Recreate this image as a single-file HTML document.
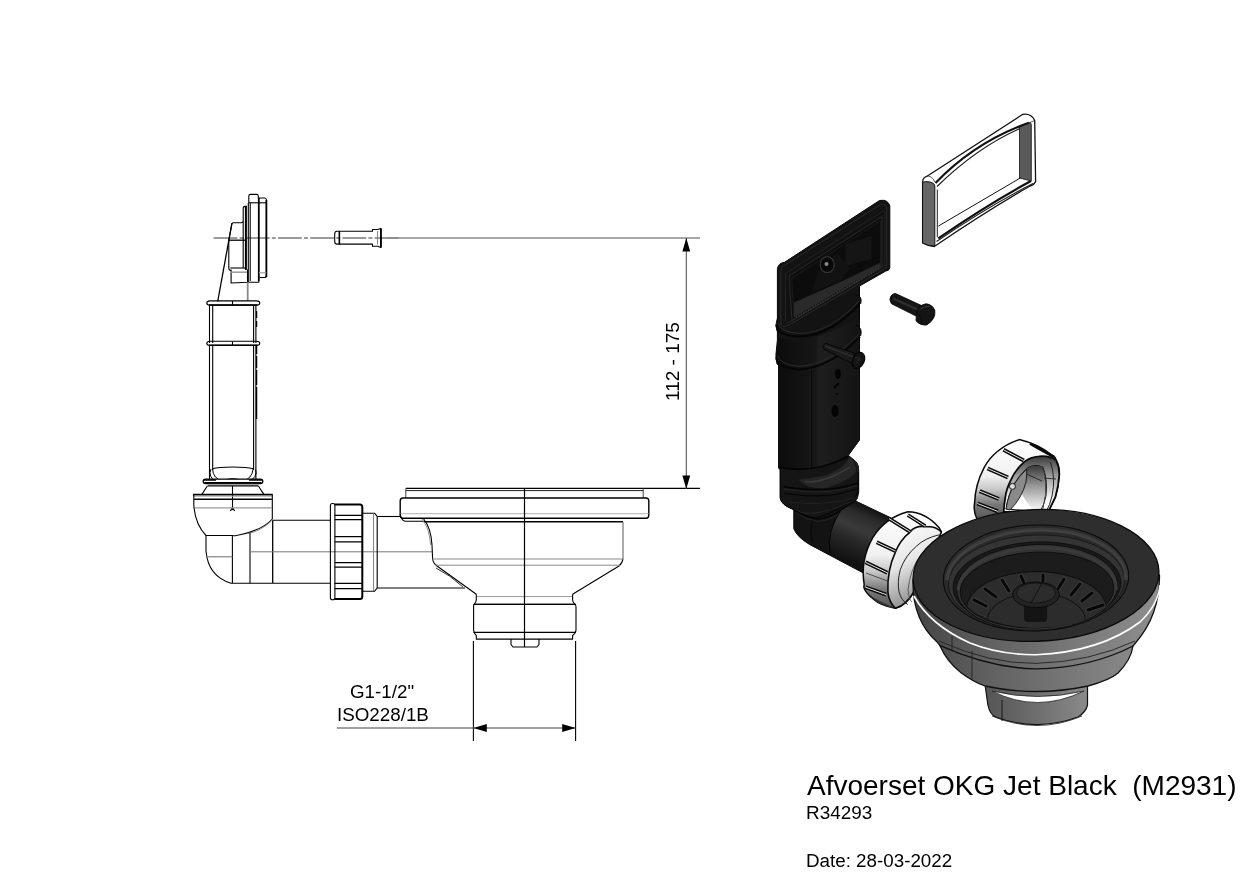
<!DOCTYPE html>
<html><head><meta charset="utf-8">
<style>
html,body{margin:0;padding:0;background:#fff;}
body{width:1250px;height:884px;position:relative;overflow:hidden;font-family:"Liberation Sans",sans-serif;color:#000;}
.t{position:absolute;white-space:pre;line-height:1;will-change:transform;}
svg{position:absolute;left:0;top:0;}
</style></head><body>
<svg id="draw" width="1250" height="884" viewBox="0 0 1250 884">
<g id="left" fill="none" stroke="#000" stroke-width="1.1" stroke-linejoin="round">
  <!-- centerline -->
  <line x1="213.6" y1="238" x2="400" y2="238" stroke="#7a7a7a" stroke-width="1.5" stroke-dasharray="23.8 2.2 4 2.2"/>
  <line x1="387" y1="238" x2="700" y2="238" stroke="#8a8a8a" stroke-width="1.3"/>
  <!-- overflow plate side -->
  <path d="M248.8 203 V196 Q248.8 194.4 250.5 194.4 H257 Q258 194.4 258.3 196 V198 H264.8 Q266.4 198 266.4 200 V275.5 Q266.4 277.5 264.5 277.5 H259.6"/>
  <line x1="248.8" y1="202.8" x2="266.4" y2="202.8"/>
  <line x1="258.8" y1="198" x2="258.8" y2="281" stroke-width="1.8"/>
  <line x1="266.4" y1="200" x2="266.4" y2="277" stroke-width="1.8"/>
  <line x1="250.2" y1="203" x2="250.2" y2="281"/>
  <line x1="248.3" y1="203" x2="248.3" y2="282.3"/>
  <path d="M243.2 268 V208.5 Q243.2 206.4 245 206.4 H247" />
  <line x1="245.9" y1="206.5" x2="245.9" y2="270" stroke-width="2"/>
  <path d="M248.3 282.3 H258.8 V281"/>
  <line x1="258.8" y1="272.8" x2="266.4" y2="272.8" stroke="#999"/>
  <!-- bracket -->
  <path d="M243.2 221.5 Q242.5 222.8 241 222.8 H233 Q232 223 231.7 224.5 L228.8 240.2 V268 Q228.8 270.5 231 270.5"/>
  <line x1="228.8" y1="240.2" x2="245.5" y2="240.2" stroke-width="1.3"/>
  <line x1="230.3" y1="268" x2="245.5" y2="268"/>
  <path d="M231.1 269.6 V283 L247.5 282.3 V269.6"/>
  <line x1="231.1" y1="272.2" x2="247" y2="272.2" stroke="#999" stroke-width="1.5"/>
  <line x1="232" y1="223" x2="217.7" y2="301.5" stroke-width="1.3"/>
  <line x1="247.7" y1="282.5" x2="247.7" y2="301" stroke="#888" stroke-width="1.8"/>
  <!-- pin -->
  <path d="M339.4 231.2 H337 Q334.7 231.2 334.7 234 V241.5 Q334.7 244.1 337 244.1 H339.4"/>
  <path d="M339.4 231.2 H372.5 V229.5 H377.5 L380.9 228.4 V247.4 L377.5 246.3 H372.5 V244.1 H339.4 Z"/>
  <line x1="339.4" y1="231.2" x2="339.4" y2="244.1" stroke-width="1.5"/>
  <line x1="380.9" y1="228.4" x2="380.9" y2="247.4" stroke-width="1.8"/>
  <line x1="377.5" y1="231" x2="377.5" y2="244.5" stroke="#888"/>
  <!-- tube -->
  <path d="M209.5 305 V343 M212.7 305 V343 M253.6 305 V343 M255.9 305 V343"/>
  <path d="M209.5 346 V480 M212.7 346 V470 M253.6 346 V470 M255.9 346 V480" />
  <line x1="256.6" y1="311" x2="256.6" y2="420" stroke-width="1.3" stroke-dasharray="7 3 6 19 8 2 12 2 15 2 32"/>
  <!-- rings -->
  <path d="M210 300.9 H256.5 Q259.8 300.9 259.8 303 Q259.8 305.1 256.5 305.1 H210 Q206.8 305.1 206.8 303 Q206.8 300.9 210 300.9 Z" stroke-width="1.1"/>
  <line x1="209" y1="305" x2="257.5" y2="305" stroke-width="1.6"/>
  <line x1="232.5" y1="301" x2="232.5" y2="305"/>
  <path d="M210 341.2 H256.5 Q259.8 341.2 259.8 343.3 Q259.8 345.4 256.5 345.4 H210 Q206.8 345.4 206.8 343.3 Q206.8 341.2 210 341.2 Z" stroke-width="1.1"/>
  <line x1="209" y1="345.3" x2="257.5" y2="345.3" stroke-width="1.6"/>
  <line x1="232.5" y1="341.5" x2="232.5" y2="345.5"/>
  <!-- bowl at bottom of tube -->
  <path d="M212.5 468.8 C220 466.3 245 466.3 253.2 468.8"/>
  <path d="M212.5 468.8 Q213 479 223.2 481.2 Q232.5 476 242.4 481.2 Q252 479 253.2 468.8" stroke-width="1"/>
  <path d="M211 469 Q207.5 477 216.1 481.2 M255.6 469.5 Q258 477 249 481.2" stroke-width="1"/>
  <!-- dark ring -->
  <path d="M205.5 479.2 H260.5 Q262.8 479.2 262.8 481.3 Q262.8 483.6 260.5 483.6 H205.5 Q203.2 483.6 203.2 481.3 Q203.2 479.2 205.5 479.2 Z" fill="#fff" stroke="#000" stroke-width="1.3"/>
  <line x1="204.5" y1="482.8" x2="261.5" y2="482.8" stroke="#000" stroke-width="1.6"/>
  <path d="M204 480 H216 M249 480 H262" stroke="#000" stroke-width="1.4"/>
  <line x1="207.5" y1="484.4" x2="258.4" y2="484.4" stroke="#999" stroke-width="0.9"/>
  <line x1="207.5" y1="485.9" x2="258.4" y2="485.9" stroke-width="1.4"/>
  <path d="M207.3 486 L201.9 494.4 M258.4 486 L263.8 494.4"/>
  <line x1="232.5" y1="486" x2="232.5" y2="510"/>
  <path d="M230.4 511 L232.5 507.5 L234.6 511" stroke-width="1.2"/>
  <!-- elbow -->
  <line x1="192.9" y1="494.6" x2="272.8" y2="494.6" stroke-width="1.8"/>
  <line x1="193.5" y1="496.3" x2="272.3" y2="496.3" stroke="#aaa" stroke-width="0.9"/>
  <line x1="194" y1="499.3" x2="271.8" y2="499.3" stroke-width="1.4"/>
  <line x1="194.5" y1="507.9" x2="271.5" y2="507.9" stroke="#999" stroke-width="1.2"/>
  <path d="M193.8 495 V505 Q195 524 206 535.5 H233.8"/>
  <path d="M272.3 495 V519 Q262 531 233.8 536"/>
  <path d="M271.5 521 Q260 531.5 248 533.5" stroke="#777" stroke-width="0.8"/>
  <path d="M206 535.5 V551 Q208 576 231 583.3 H272.7"/>
  <line x1="232.4" y1="536" x2="232.4" y2="583.3"/>
  <line x1="250" y1="532.5" x2="250" y2="583.3"/>
  <line x1="206" y1="556.8" x2="232.4" y2="556.8" stroke="#777"/>
  <line x1="272.7" y1="520.3" x2="272.7" y2="583.3" stroke-width="1.3"/>
  <!-- pipe -->
  <line x1="272.7" y1="520.3" x2="330.5" y2="520.3"/>
  <line x1="272.7" y1="583.3" x2="330.5" y2="583.3"/>
  <line x1="250" y1="551.8" x2="432.6" y2="551.8" stroke="#777" stroke-width="1"/>
  <!-- nut -->
  <rect x="330.4" y="503.5" width="4.5" height="96.2" rx="2" />
  <path d="M334.6 504.4 H360 Q362.3 504.4 362.3 507 V596.5 Q362.3 599 360 599 H334.6" stroke-width="2"/>
  <path d="M334.6 515.3 H362 M334.6 519.7 H362 M334.6 536.6 H362 M334.6 541.8 H362 M334.6 562.6 H362 M334.6 567.2 H362 M334.6 583.4 H362 M334.6 588.6 H362" stroke-width="1.3"/>
  <!-- collar -->
  <path d="M362.3 513.2 H374.6 L377.2 516.5 V588 L374.6 591.2 H362.3"/>
  <line x1="373.5" y1="513.5" x2="373.5" y2="591" stroke="#888"/>
  <line x1="377.2" y1="516.5" x2="400.5" y2="516.5"/>
  <line x1="377.2" y1="588" x2="465" y2="588"/>
  <!-- basket -->
  <line x1="405.8" y1="488.4" x2="700" y2="488.4" stroke-width="1.3"/>
  <path d="M405.8 488.4 V498 M643.2 488.4 V498" stroke="#555"/>
  <line x1="405.8" y1="490.6" x2="643.2" y2="490.6" stroke="#222" stroke-width="1"/>
  <path d="M403 498 H646 Q648.8 498 648.8 501 V515 Q648.8 518.2 646 518.2 H403 Q400.2 518.2 400.2 515 V501 Q400.2 498 403 498 Z" stroke-width="1.4"/>
  <line x1="400.5" y1="513.7" x2="648.5" y2="513.7" stroke="#aaa" stroke-width="0.9"/>
  <path d="M400.2 514 Q401 520 405 521.3 H423.7"/>
  <line x1="423.7" y1="521.8" x2="623" y2="521.8" stroke-width="1.4"/>
  <path d="M423.7 519 Q431 528 432 545 L432.6 558.5 Q433 563 437 566 L476.3 594.3"/>
  <path d="M422 519 Q429.5 528 430.6 545" stroke="#777" stroke-width="0.8"/><path d="M436 568 Q450 575 463 587" stroke="#333" stroke-width="1"/>
  <path d="M623 522 V558.5" stroke="#666"/><path d="M623 558.5 Q622.5 563 619 566 L572.6 594.3"/>
  <line x1="432.6" y1="559" x2="623" y2="559" stroke="#888" stroke-width="1"/>
  <line x1="435" y1="565.2" x2="620" y2="565.2" stroke="#888" stroke-width="1"/>
  <line x1="476.3" y1="596.6" x2="572.6" y2="596.6" stroke="#999" stroke-width="1"/>
  <path d="M476.3 594.3 V600 Q476.3 602 474 604.4 H575 Q572.6 602 572.6 600 V594.3"/>
  <line x1="474" y1="604.4" x2="576" y2="604.4" stroke-width="1.3"/>
  <path d="M474 604.4 Q473.6 605 473.6 607 V630 Q473.6 633 476.3 635.5 V639.1 H572.6 V635.5 Q576 633 576 630 V607 Q576 605 575 604.4"/>
  <line x1="473.6" y1="632.4" x2="576" y2="632.4" stroke-width="1.3"/>
  <path d="M511 639.1 V644.5 L513 647 H537 L539 644.5 V639.1"/>
  <line x1="524.5" y1="488.4" x2="524.5" y2="647" stroke-width="1.2"/>
  <!-- dimension: G1-1/2 -->
  <line x1="473.4" y1="641" x2="473.4" y2="741"/>
  <line x1="575.6" y1="641" x2="575.6" y2="741"/>
  <line x1="336.8" y1="728" x2="575.6" y2="728" stroke="#444"/>
  <path d="M473.4 728 L486.8 724 V732 Z M575.6 728 L562.2 724 V732 Z" fill="#000" stroke="none"/>
  <!-- dimension: 112-175 -->
  <line x1="686.3" y1="238" x2="686.3" y2="489" stroke="#555"/>
  <path d="M686.3 238 L682.4 251.5 H690.2 Z M686.3 489 L682.4 475.5 H690.2 Z" fill="#000" stroke="none"/>
</g>
<defs>
  <linearGradient id="gTube" x1="0" x2="1" y1="0" y2="0">
    <stop offset="0" stop-color="#0c0c0c"/><stop offset="0.45" stop-color="#161616"/><stop offset="0.5" stop-color="#1e1e1e"/><stop offset="1" stop-color="#141414"/>
  </linearGradient>
  <linearGradient id="gPipe" x1="0" y1="1" x2="0.35" y2="0">
    <stop offset="0" stop-color="#151515"/><stop offset="0.5" stop-color="#3a3a3a"/><stop offset="1" stop-color="#141414"/>
  </linearGradient>
  <linearGradient id="gBody" x1="0" x2="1" y1="0" y2="0">
    <stop offset="0" stop-color="#4a4a4a"/><stop offset="0.4" stop-color="#6a6a6a"/><stop offset="0.7" stop-color="#7a7a7a"/><stop offset="1" stop-color="#5a5a5a"/>
  </linearGradient>
  <linearGradient id="gNeck" x1="0" x2="1" y1="0" y2="0">
    <stop offset="0" stop-color="#555"/><stop offset="0.5" stop-color="#6e6e6e"/><stop offset="1" stop-color="#8a8a8a"/>
  </linearGradient>
</defs>
<g id="right" stroke-linejoin="round">
  <!-- gasket -->
  <path d="M927 176.3 L1022.8 114.3 Q1031 113 1034.7 120.3 L1035.6 181.4 Q1034 185 1030 186 Q985 212 934.3 246.5 Q928 246 922.6 243 V182 Q923 177 927 176.3 Z" fill="#fff" stroke="#111" stroke-width="1.3"/>
  <path d="M935.5 183 Q975 142 1028.8 122.8 L1031.3 122 V181 Q990 200 937 240 Z" fill="#fff" stroke="none"/>
  <path d="M922.6 182.4 Q925 181 930 182 Q934.8 183 934.8 186 V246 Q928 246 922.6 243 Z" fill="#666" stroke="#111" stroke-width="1"/>
  <path d="M925.6 176.3 Q932 175 934.8 182" fill="none" stroke="#333" stroke-width="0.8"/>
  <path d="M1019.5 127 L1029 122.5 Q1031.3 122 1031.3 125 V181 L1019.5 178 Z" fill="#5a5a5a" stroke="#222" stroke-width="0.9"/>
  <path d="M935.5 183 Q975 142 1028.8 122.8" fill="none" stroke="#111" stroke-width="2.2"/>
  <path d="M937 186.5 Q977 147.5 1020 128.5" fill="none" stroke="#222" stroke-width="1.2"/>
  <line x1="937.3" y1="189.5" x2="937.3" y2="237.3" stroke="#222" stroke-width="1"/>
  <line x1="938.3" y1="226.1" x2="1020.3" y2="178" stroke="#111" stroke-width="1"/>
  <path d="M938.3 238.3 Q990 203 1031 181" fill="none" stroke="#111" stroke-width="2.2"/>
  <path d="M936.5 241.5 Q988 206.5 1033 183.5" fill="none" stroke="#222" stroke-width="1.2"/>
  <path d="M1034.7 120.3 L1029 123" fill="none" stroke="#333" stroke-width="0.8"/>
  <!-- floating screw -->
  <path d="M895.6 293.6 L922.1 305.8 L916 316 L891.5 303.8 Q888.5 299 891 296 Q893 293 895.6 293.6 Z" fill="#151515" stroke="#050505" stroke-width="0.8"/>
  <path d="M893 298.5 L920 310.5" stroke="#2e2e2e" stroke-width="2" fill="none"/>
  <path d="M916.7 311.2 Q919 305 926.2 303.8 Q932.5 304.5 934.8 310.5 Q936 319 927 324.8 Q920.5 326 916 320.7 Z" fill="#141414" stroke="#050505" stroke-width="0.9"/>
  <path d="M920.5 309 Q924 306 929.5 306.5" fill="none" stroke="#3a3a3a" stroke-width="1"/><path d="M918.5 314 Q921.5 318 922 323" fill="none" stroke="#080808" stroke-width="0.9"/>
  <!-- tube body + plate silhouette -->
  <path d="M777.4 269.4 Q778 263 784.5 262.3 L879.5 200.5 Q888 199 889.8 206 V267.8 Q889 271 885.8 271 L859.5 286 V440 L848.3 455.4 Q858 462 858.7 470 V492 Q858 498 855.5 501 L890.3 517.6 L863.4 573 L809.6 544.5 Q797 537 793.8 528.7 V509.7 Q781 505 780.3 498 V470 L778.6 468 V360 Q775 358 776 354 L777.4 340 Z" fill="#131313" stroke="#050505" stroke-width="1"/>
  <!-- plate face -->
  <path d="M780.8 271 Q781 266.5 785 265 L880.5 204.5 Q886.8 203 886.8 209 V266 Q886.5 268.5 883.5 269.5 L789 325 Q781 329 780.8 322 Z" fill="none" stroke="#2c2c2c" stroke-width="0.9"/>
  <path d="M785.5 273.5 L882.5 211.5 Q884.8 210.5 884.8 213 V265.5 L789 322 Q785.5 323.5 785.5 320 Z" fill="#111" stroke="#262626" stroke-width="0.9"/>
  <path d="M789 276 L882 216.5 V266.5 L792 320.5 Z" fill="#0e0e0e" stroke="#303030" stroke-width="0.8"/>
  <path d="M791.6 278.5 L880.5 221 V266 L794 317 Z" fill="#0c0c0c" stroke="#1e1e1e" stroke-width="0.8"/>
  <path d="M845.4 244 L871.6 236 V259 L845.4 266 Z" fill="#151515"/>
  <path d="M812 292 L840 281 L850 268 L838 254 Q818 262 812 292 Z" fill="#121212"/>
  <path d="M794 302.6 L844.7 280 L880.5 262.5 V267 L794 317 Z" fill="#2a2a2a"/>
  <ellipse cx="827.2" cy="264.7" rx="7" ry="8" fill="#080808" stroke="#333" stroke-width="1.3"/>
  <circle cx="826.5" cy="264" r="2" fill="#888"/>
  <path d="M796 317.5 L880 268" stroke="#3a3a3a" stroke-width="1.8" stroke-dasharray="1.2 1.6"/>
<!-- collar under plate -->
  <path d="M778.6 337 Q800 350 859.5 318 V440 L848.3 455.4 Q815 475 778.6 468 Z" fill="url(#gTube)"/>
  <path d="M777.5 318 Q774.5 325 777 331 L779 333 Z" fill="#131313" stroke="#050505" stroke-width="0.8"/>
  <path d="M777.5 351 Q774.5 358 777 364 L779 366 Z" fill="#131313" stroke="#050505" stroke-width="0.8"/>
  <path d="M855.5 294.7 Q863 296 860.6 304" fill="#131313" stroke="#050505" stroke-width="1"/>
  <path d="M856 325 Q863 328 860.6 336" fill="#131313" stroke="#050505" stroke-width="1"/>
  <path d="M776.3 325.3 Q778 335.5 799 336.6 Q830 336 859.5 304" fill="none" stroke="#050505" stroke-width="2"/>
  <path d="M777.5 322.5 Q780 332 799 333.5 Q830 333 859 301" fill="none" stroke="#2c2c2c" stroke-width="0.9"/>
  <path d="M776.3 358.1 Q778 368.5 799 369.4 Q830 368 860 336.6" fill="none" stroke="#050505" stroke-width="2"/>
  <path d="M777.5 355.3 Q780 365 799 366.3 Q830 365 859.5 333.5" fill="none" stroke="#2c2c2c" stroke-width="0.9"/>
  <line x1="811.4" y1="370" x2="811.4" y2="470" stroke="#0a0a0a" stroke-width="1"/>
  <line x1="810.2" y1="370" x2="810.2" y2="470" stroke="#222" stroke-width="0.6"/>
  <!-- screw on tube -->
  <path d="M826.1 343.4 L855.5 353.6 L852.1 363.7 L823.8 349 Q821 345 826.1 343.4 Z" fill="#1a1a1a" stroke="#050505" stroke-width="0.9"/>
  <path d="M825 346 L854 357" stroke="#2e2e2e" stroke-width="1.4" fill="none"/>
  <ellipse cx="858.4" cy="360.4" rx="5.8" ry="8.5" transform="rotate(25 858.4 360.4)" fill="#141414" stroke="#050505" stroke-width="1.2"/>
  <path d="M855 358 Q858 356 861 361 M856 364 L860 358" stroke="#333" stroke-width="0.7" fill="none"/>
<!-- marks on tube -->
  <ellipse cx="838" cy="374" rx="3" ry="5" fill="#050505"/>
  <line x1="834" y1="388" x2="839" y2="383" stroke="#050505" stroke-width="2.2"/>
  <circle cx="837" cy="394" r="1" fill="#050505"/>
  <ellipse cx="835" cy="411" rx="3.5" ry="6" fill="#050505"/>
  <!-- collar ring under tube -->
  <path d="M780.2 467.3 Q813 474 849.2 457.1 Q860 462 858.2 470 V490 Q857 497 849 502.4 Q830 514 815.2 518.2 Q800 515 793.8 509.2 Q781 505 780.2 497.9 Z" fill="#151515" stroke="#050505" stroke-width="1"/>
  <path d="M798.3 479.8 Q812 478 826.6 475.2 Q845 468 849.2 457.1 Q856 462 856 472 Q850 480 826.6 488 Q808 490 798.3 479.8 Z" fill="#262626"/>
  <path d="M805 482 Q825 483 850 467" fill="none" stroke="#3a3a3a" stroke-width="1.5"/>
  <path d="M779.6 467.3 Q813 475 848 456" fill="none" stroke="#050505" stroke-width="1.4"/>
  <path d="M849.2 457.1 Q859 462 858.2 472" fill="none" stroke="#2e2e2e" stroke-width="0.9"/>
  <path d="M783.6 486.6 Q826.6 494 857.1 483.2" fill="none" stroke="#050505" stroke-width="1.6"/>
  <path d="M783.6 489 Q826.6 496.5 857 485.5" fill="none" stroke="#2a2a2a" stroke-width="0.8"/>
  <path d="M783.6 493 Q826.6 500.5 857 488.8" fill="none" stroke="#050505" stroke-width="1.2"/>
  <path d="M790 502.4 Q826 506 855 497.9" fill="none" stroke="#262626" stroke-width="0.8"/>
  <path d="M793.8 509.2 Q810 520 849.2 502.4 L858.2 497.9" fill="none" stroke="#262626" stroke-width="0.9"/>
<!-- elbow pipe highlight -->
  <linearGradient id="gPipe2" gradientUnits="userSpaceOnUse" x1="846" y1="560" x2="868" y2="508">
    <stop offset="0" stop-color="#121212"/><stop offset="0.35" stop-color="#262626"/><stop offset="0.6" stop-color="#3a3a3a"/><stop offset="0.85" stop-color="#2a2a2a"/><stop offset="1" stop-color="#151515"/>
  </linearGradient>
  <path d="M841.3 509.7 Q848 505 855.5 501 L890.3 517.6 L863.4 573 L830.2 554 Q826 532 841.3 509.7 Z" fill="url(#gPipe2)"/>
  <path d="M812.8 519.2 Q809 530 812.8 543" fill="none" stroke="#050505" stroke-width="0.9"/>
  <path d="M841.3 509.7 Q826 532 830.2 554" fill="none" stroke="#050505" stroke-width="1"/>
  <path d="M793.8 509.7 Q805 517 817.5 519.2 Q830 518 841.3 509.7 Q850 505 856 500" fill="none" stroke="#050505" stroke-width="1.3"/>
  <path d="M796 513 Q806 519.5 817.5 521.5 Q830 520.5 842 512" fill="none" stroke="#2a2a2a" stroke-width="0.8"/>
</g>
<defs>
  <linearGradient id="gRib" x1="0" y1="0" x2="0" y2="1">
    <stop offset="0" stop-color="#ffffff"/><stop offset="0.45" stop-color="#f0f0f0"/><stop offset="0.62" stop-color="#c8c8c8"/><stop offset="0.8" stop-color="#7a7a7a"/><stop offset="1" stop-color="#555"/>
  </linearGradient>
  <linearGradient id="gCollar" x1="0" y1="0" x2="0.3" y2="1">
    <stop offset="0" stop-color="#ffffff"/><stop offset="0.5" stop-color="#e6e6e6"/><stop offset="1" stop-color="#8c8c8c"/>
  </linearGradient>
  <linearGradient id="gInside2" x1="0" y1="0" x2="1" y2="0">
    <stop offset="0" stop-color="#9a9a9a"/><stop offset="0.5" stop-color="#ffffff"/><stop offset="1" stop-color="#666"/>
  </linearGradient>
  <linearGradient id="gRim" x1="0" x2="1" y1="0" y2="0">
    <stop offset="0" stop-color="#444"/><stop offset="0.3" stop-color="#606060"/><stop offset="0.7" stop-color="#7c7c7c"/><stop offset="1" stop-color="#8e8e8e"/>
  </linearGradient>
  <clipPath id="cBasin"><ellipse cx="1037" cy="590" rx="77" ry="38"/></clipPath>
</defs>
<g id="nuts" stroke-linejoin="round">
  <defs>
    <linearGradient id="gN2in" x1="0" y1="0" x2="0" y2="1">
      <stop offset="0" stop-color="#3a3a3a"/><stop offset="0.45" stop-color="#9a9a9a"/><stop offset="1" stop-color="#ffffff"/>
    </linearGradient>
    <linearGradient id="gN2r" x1="0" y1="0" x2="0" y2="1">
      <stop offset="0" stop-color="#3a3a3a"/><stop offset="0.35" stop-color="#9a9a9a"/><stop offset="0.75" stop-color="#f4f4f4"/><stop offset="1" stop-color="#fff"/>
    </linearGradient>
  </defs>
  <!-- nut 2 (upper, behind basket) -->
  <path d="M1019.3 439.6 Q1038 444 1052.5 455.5 Q1055.5 457 1056 460 Q1059.5 467 1059.3 474.8 Q1058.5 487 1055.3 497.2 Q1052 504 1048.1 512 L977.4 520 Q973 512 974.6 503 Q975 485 984.2 467.3 Q995 448 1019.3 439.6 Z" fill="url(#gRib)" stroke="#0a0a0a" stroke-width="1.5"/>
  <path d="M1039.3 456.3 Q1030 457 1024.3 461.9 Q1015 470 1010.8 480.1 Q1006 490 1005.3 497.5 Q1004 505 1003.7 512 L1048.1 512 Q1052 504 1055.3 497.2 Q1058.5 487 1059.3 474.8 Q1059.5 467 1056 460 Q1048 455 1039.3 456.3 Z" fill="url(#gN2r)" stroke="#0a0a0a" stroke-width="1.8"/>
  <path d="M1039.3 465.8 Q1030 465 1026.7 469 Q1020 475 1014.8 483.3 Q1008 495 1006.1 509 L1042 512 Q1046 495 1045.5 480 Q1044 467 1039.3 465.8 Z" fill="#fff" stroke="#111" stroke-width="1.1"/>
  <path d="M1039.3 465.8 Q1030 465 1026.7 469 Q1022 475 1020 490 Q1024 500 1035 512 L1042 512 Q1046 495 1045.5 480 Q1044 467 1039.3 465.8 Z" fill="url(#gN2in)"/>
  <path d="M1026.7 469 Q1020 475 1014.8 483.3 Q1008 495 1006.1 509 L1010 510 Q1022 498 1026 482 Q1027 474 1026.7 469 Z" fill="#8a8a8a" stroke="#111" stroke-width="0.9"/>
  <path d="M1026.5 474 L1042 481" stroke="#222" stroke-width="0.9"/>
  <path d="M1042.5 466 Q1048 480 1046 496 Q1044 505 1040 512" fill="none" stroke="#222" stroke-width="1"/>
  <path d="M1050.4 462 Q1056 478 1052 496 Q1050 505 1046 512" fill="none" stroke="#222" stroke-width="1"/>
  <path d="M1044 478 L1056 479" stroke="#222" stroke-width="0.9"/>
  <g stroke-linecap="butt">
    <path d="M1003.5 449.8 L1023.8 460.5 M987.6 468.5 L1008 477.5 M979.7 491.1 L998.9 499 M977.4 503.5 L997.8 511.4" fill="none" stroke="#0a0a0a" stroke-width="4"/>
    <path d="M1003.5 449.8 L1023.8 460.5 M987.6 468.5 L1008 477.5 M979.7 491.1 L998.9 499 M977.4 503.5 L997.8 511.4" fill="none" stroke="#fff" stroke-width="0.9"/>
  </g>
  <path d="M1030 443.5 L1054 457" stroke="#0a0a0a" stroke-width="2.8"/>
  <circle cx="1012.4" cy="486.4" r="3" fill="#ddd" stroke="#111" stroke-width="1"/>
  <!-- nut 1 (on pipe) -->
  <path d="M907.8 511.8 Q925 512 938.9 527.4 L941.4 531.8 Q930 560 915 590 Q906 606 895.3 608.3 Q880 605 874.2 599.6 Q862 590 864.2 584.7 Q860 560 872.9 537.4 Q885 518 907.8 511.8 Z" fill="url(#gRib)" stroke="#0a0a0a" stroke-width="1.5"/>
  <path d="M927.7 526.8 Q915 525 910.3 531.8 Q900 540 895.3 552.3 Q887 570 887.9 592.1 Q889 602 895.3 608.3 Q906 606 915 590 Q930 560 941.4 531.8 Q935 526 927.7 526.8 Z" fill="url(#gCollar)" stroke="#0a0a0a" stroke-width="1.6"/>
  <path d="M938.9 534.9 Q925 538 916.5 546.1 Q905 556 900.3 569.7 Q897 582 899.1 592.1 Q901 600 907.8 604.6" fill="none" stroke="#222" stroke-width="1"/>
  <path d="M941 540 Q928 545 920 556 Q910 570 908 590 Q909 600 912 602" fill="none" stroke="#444" stroke-width="0.8"/>
  <g stroke-linecap="butt">
    <path d="M889.1 518.7 L910.3 531.8 M876.7 542.3 L895.3 551 M865.5 562.3 L887.3 572.8 M865.5 587.2 L886 594.6 M907.8 515 L925.2 526.2" fill="none" stroke="#0a0a0a" stroke-width="3.8"/>
    <path d="M889.1 518.7 L910.3 531.8 M876.7 542.3 L895.3 551 M865.5 562.3 L887.3 572.8 M865.5 587.2 L886 594.6 M907.8 515 L925.2 526.2" fill="none" stroke="#fff" stroke-width="0.9"/>
  </g>
  <path d="M866 573 L887.5 581" stroke="#333" stroke-width="0.8"/>
  <path d="M870 596 L886 604 L895 608 Q880 606 870 596 Z" fill="#333"/>
</g>
<g id="basket" stroke-linejoin="round">
  <!-- neck -->
  <path d="M985.2 686 L987.9 705 Q990 715 996 717.2 Q1037 732 1078 717 Q1086 712 1087.5 705 V686 Z" fill="url(#gNeck)" stroke="#111" stroke-width="1.2"/>
  <path d="M992 691 Q1037 714 1084 691 Q1037 702 992 691 Z" fill="#fff" stroke="#222" stroke-width="0.8"/>
  <line x1="1002" y1="700" x2="1002" y2="721" stroke="#111" stroke-width="0.9"/>
  <path d="M992 716 Q1037 735 1082 716" fill="none" stroke="#222" stroke-width="0.8"/>
  <!-- rim side + body silhouette -->
  <path d="M913 580 Q912 620 937.6 642.6 L939.7 645.3 Q947 662 960.7 672.4 Q972 681 985 686 Q1036 697 1088 686 Q1110 680 1118 673 Q1131 660 1133 646 L1135.5 643 Q1160 615 1159.5 575 Z" fill="url(#gRim)" stroke="#111" stroke-width="1.3"/>
  <path d="M939.7 645.3 Q990 668 1036 668.9 Q1090 668 1133 646" fill="none" stroke="#111" stroke-width="1.4"/>
  <path d="M939 641 Q990 664 1036 663.4 Q1090 662 1135 641" fill="none" stroke="#222" stroke-width="0.9"/>
  <path d="M914 596 Q930 625 970 643 Q1000 655 1036 654.7 Q1100 652 1140 622 Q1158 605 1160 585" fill="none" stroke="#fff" stroke-width="1.6"/>
  <line x1="972" y1="651" x2="972" y2="679" stroke="#222" stroke-width="0.9"/>
  <line x1="952" y1="636" x2="952" y2="650" stroke="#222" stroke-width="0.9"/>
  <!-- rim top face -->
  <ellipse cx="1036" cy="575.4" rx="123" ry="65.9" transform="rotate(-2 1036 575.4)" fill="#2e2e2e" stroke="#0a0a0a" stroke-width="1.3"/>
  <ellipse cx="1036" cy="578" rx="92.75" ry="53" transform="rotate(-2 1036 578)" fill="#2a2a2a" stroke="#0a0a0a" stroke-width="1"/>
  <ellipse cx="1036.5" cy="582" rx="88" ry="47" transform="rotate(-2 1036.5 582)" fill="#343434" stroke="#141414" stroke-width="0.8"/>
  <ellipse cx="1037" cy="585" rx="84" ry="43" transform="rotate(-2 1037 585)" fill="#1a1a1a" stroke="#0a0a0a" stroke-width="0.8"/>
  <ellipse cx="1037.2" cy="587.4" rx="80.4" ry="43" transform="rotate(-2 1037.2 587.4)" fill="#333" stroke="#0a0a0a" stroke-width="0.8"/>
  <ellipse cx="1037" cy="590" rx="77" ry="38" transform="rotate(-2 1037 590)" fill="#1c1c1c" stroke="#0a0a0a" stroke-width="0.8"/>
  <path d="M947 580 A89.5 50 -2 0 1 1126 580" fill="none" stroke="#3a3a3a" stroke-width="4"/><path d="M947.5 580 A89 49.5 -2 0 1 1125.5 580" fill="none" stroke="#444" stroke-width="1.2"/>
  <path d="M958 590 A79 42 -2 0 1 1116 590" fill="none" stroke="#3a3a3a" stroke-width="3"/>
  <!-- strainer (clipped) -->
  <g clip-path="url(#cBasin)">
    <ellipse cx="1036.4" cy="609" rx="70" ry="37.5" fill="#2c2c2c" stroke="#0a0a0a" stroke-width="0.9"/>
    <ellipse cx="1036.4" cy="620" rx="49" ry="27" fill="none" stroke="#0a0a0a" stroke-width="0.8"/>
    <g stroke="#3c3c3c" stroke-width="5" stroke-linecap="round">
      <line x1="970" y1="613" x2="983" y2="618"/>
      <line x1="974" y1="600" x2="986" y2="606"/>
      <line x1="985" y1="589" x2="996" y2="597"/>
      <line x1="1002" y1="580" x2="1009" y2="591"/>
      <line x1="1021" y1="576" x2="1024" y2="583"/>
      <line x1="1043" y1="575" x2="1043" y2="581"/>
      <line x1="1064" y1="579" x2="1058" y2="589"/>
      <line x1="1080" y1="584" x2="1071" y2="595"/>
      <line x1="1092" y1="593" x2="1082" y2="601"/>
      <line x1="1103" y1="605" x2="1088" y2="610"/>
    </g>
    <g stroke="#070707" stroke-width="3" stroke-linecap="round">
      <line x1="970" y1="613" x2="983" y2="618"/>
      <line x1="974" y1="600" x2="986" y2="606"/>
      <line x1="985" y1="589" x2="996" y2="597"/>
      <line x1="1002" y1="580" x2="1009" y2="591"/>
      <line x1="1021" y1="576" x2="1024" y2="583"/>
      <line x1="1043" y1="575" x2="1043" y2="581"/>
      <line x1="1064" y1="579" x2="1058" y2="589"/>
      <line x1="1080" y1="584" x2="1071" y2="595"/>
      <line x1="1092" y1="593" x2="1082" y2="601"/>
      <line x1="1103" y1="605" x2="1088" y2="610"/>
    </g>
  </g>
  <!-- knob -->
  <rect x="1024" y="600" width="23.2" height="22" rx="4" fill="#141414"/>
  <ellipse cx="1036" cy="594.8" rx="23.2" ry="12.8" fill="#232323" stroke="#0a0a0a" stroke-width="1"/>
  <ellipse cx="1036" cy="593" rx="19.5" ry="10" fill="#2c2c2c" stroke="#111" stroke-width="0.8"/>
  <line x1="1042" y1="583" x2="1031" y2="603" stroke="#0a0a0a" stroke-width="0.8"/>
</g>

</svg>
<div class="t" style="left:807px;top:772px;font-size:28px">Afvoerset OKG Jet Black  (M2931)</div>
<div class="t" style="left:806px;top:804px;font-size:18.9px">R34293</div>
<div class="t" style="left:806px;top:851.5px;font-size:18.8px">Date: 28-03-2022</div>
<div class="t" style="left:350px;top:682.5px;font-size:18.8px">G1-1/2"</div>
<div class="t" style="left:337px;top:705.5px;font-size:18.8px">ISO228/1B</div>
<div class="t" style="left:662.8px;top:401px;font-size:19px;transform-origin:0 0;transform:rotate(-90deg)">112 - 175</div>
</body></html>
